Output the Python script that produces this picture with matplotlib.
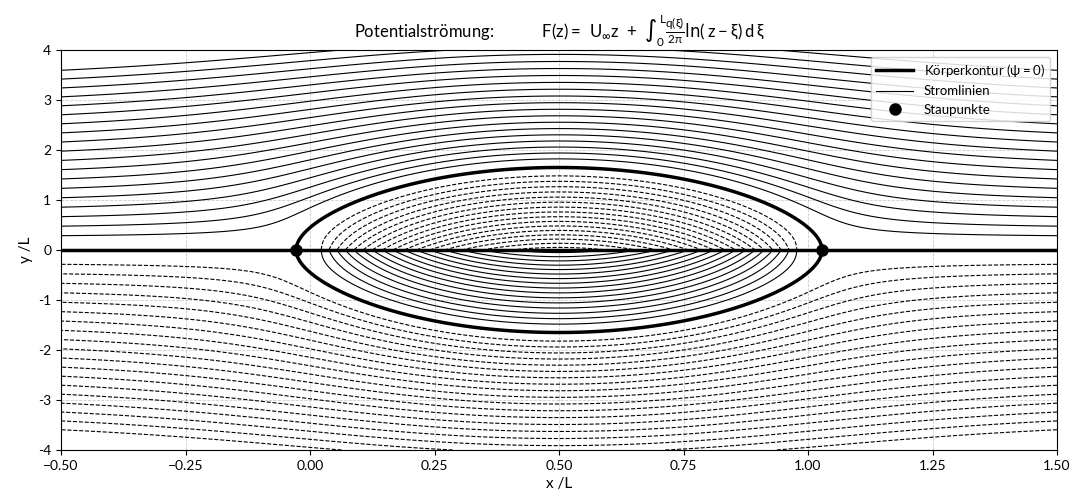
import numpy as np
import matplotlib

matplotlib.use("Agg")
import matplotlib.pyplot as plt
from matplotlib.lines import Line2D

plt.rcParams["font.family"] = ["Lato", "DejaVu Sans"]
plt.rcParams["mathtext.default"] = "regular"

# Anstroemung und lineare Quellverteilung q(xi) auf [0, L]
U_inf = 1.0
L = 1.0
x_stag_front = -0.028     # vorderer Staupunkt
half_thickness = 1.65     # halbe Koerperdicke bei x = L/2
upstream_spacing = 0.17   # Abstand der Stromlinien weit vorn
n_levels = 19

x_lim = (-0.5, 1.5)
y_lim = (-4, 4)
x_ticks = [-0.5, -0.25, 0.0, 0.25, 0.5, 0.75, 1.0, 1.25, 1.5]
y_ticks = [-4, -3, -2, -1, 0, 1, 2, 3, 4]

n_panels = 400
xi_edges = np.linspace(0, L, n_panels + 1)
xi_mid = 0.5 * (xi_edges[:-1] + xi_edges[1:])
q_shape = 1 - 2 * xi_mid / L

# Quellstaerke so, dass u = 0 im vorderen Staupunkt
S = np.sum(q_shape * (np.log(np.abs(x_stag_front - xi_edges[:-1]))
                      - np.log(np.abs(x_stag_front - xi_edges[1:]))))
q = q_shape * (-2 * np.pi * U_inf / S)

# Spruenge von q an den Panelraendern
q_pad = np.concatenate([[0.0], q, [0.0]])
q_jump = q_pad[1:] - q_pad[:-1]


def stream_function(X, Y):
    acc = np.zeros_like(X, dtype=float)
    for xe, dq in zip(xi_edges, q_jump):
        d = X - xe
        G = d * np.arctan2(Y, d) + 0.5 * Y * np.log(d * d + Y * Y)
        acc += dq * G
    return U_inf * Y + acc / (2 * np.pi)


# Koerperdicke bei x = L/2 -> Skalierung der y-Achse
lo, hi = 1e-5, 3.0
for _ in range(60):
    mid = 0.5 * (lo + hi)
    if stream_function(np.array([0.5 * L]), np.array([mid]))[0] < 0:
        lo = mid
    else:
        hi = mid
y_scale = half_thickness / (0.5 * (lo + hi))

dpsi = U_inf * upstream_spacing / y_scale
pos_levels = (np.arange(1, n_levels + 1) + 0.5) * dpsi
levels = np.concatenate([-pos_levels[::-1], pos_levels])

x = np.linspace(x_lim[0], x_lim[1], 700)
y_up = np.linspace(1e-4, y_lim[1], 360)
Xg, Yg = np.meshgrid(x, y_up)
psi_up = stream_function(Xg, Yg / y_scale)

stag_x = [x_stag_front, L - x_stag_front]

fig, ax = plt.subplots(figsize=(10.72, 5.0), dpi=100)
fig.subplots_adjust(left=0.057, right=0.986, top=0.9, bottom=0.1)

ax.grid(True, linestyle="--", color="0.75", linewidth=0.6, alpha=0.8)
ax.set_axisbelow(True)

# Stromlinien (oben und gespiegelt unten, psi ist ungerade in y)
ax.contour(Xg, Yg, psi_up, levels=levels, colors="k", linewidths=0.8)
ax.contour(Xg, -Yg, -psi_up, levels=levels, colors="k", linewidths=0.8)

# Koerperkontur psi = 0
ax.contour(Xg, Yg, psi_up, levels=[0], colors="k", linewidths=2.5)
ax.contour(Xg, -Yg, -psi_up, levels=[0], colors="k", linewidths=2.5)
ax.axhline(0, color="k", linewidth=2.5)

ax.plot(stag_x, [0, 0], "o", color="k", markersize=8, zorder=5)

ax.set_xlim(*x_lim)
ax.set_ylim(*y_lim)
ax.set_xticks(x_ticks)
ax.set_yticks(y_ticks, labels=[str(v) for v in y_ticks])
ax.tick_params(labelsize=10)
ax.set_xlabel("x /L", fontsize=11)
ax.set_ylabel("y /L", fontsize=11)
ax.set_title(r"Potentialströmung:$\qquad\quad F(z) = \ U_\infty z\ +\ \int_0^L \frac{q(\xi)}{2\pi}\ln(\,z-\xi)\,d\,\xi$",
             fontsize=12, pad=8)

handles = [
    Line2D([], [], color="k", linewidth=2.5),
    Line2D([], [], color="k", linewidth=0.8),
    Line2D([], [], color="k", marker="o", linestyle="none", markersize=8),
]
labels = [r"Körperkontur ($\psi=0$)", "Stromlinien", "Staupunkte"]
ax.legend(handles, labels, loc="upper right", fontsize=9.5, framealpha=0.85,
          handlelength=2.8)

fig.savefig("out.png", dpi=100)
plt.close(fig)
